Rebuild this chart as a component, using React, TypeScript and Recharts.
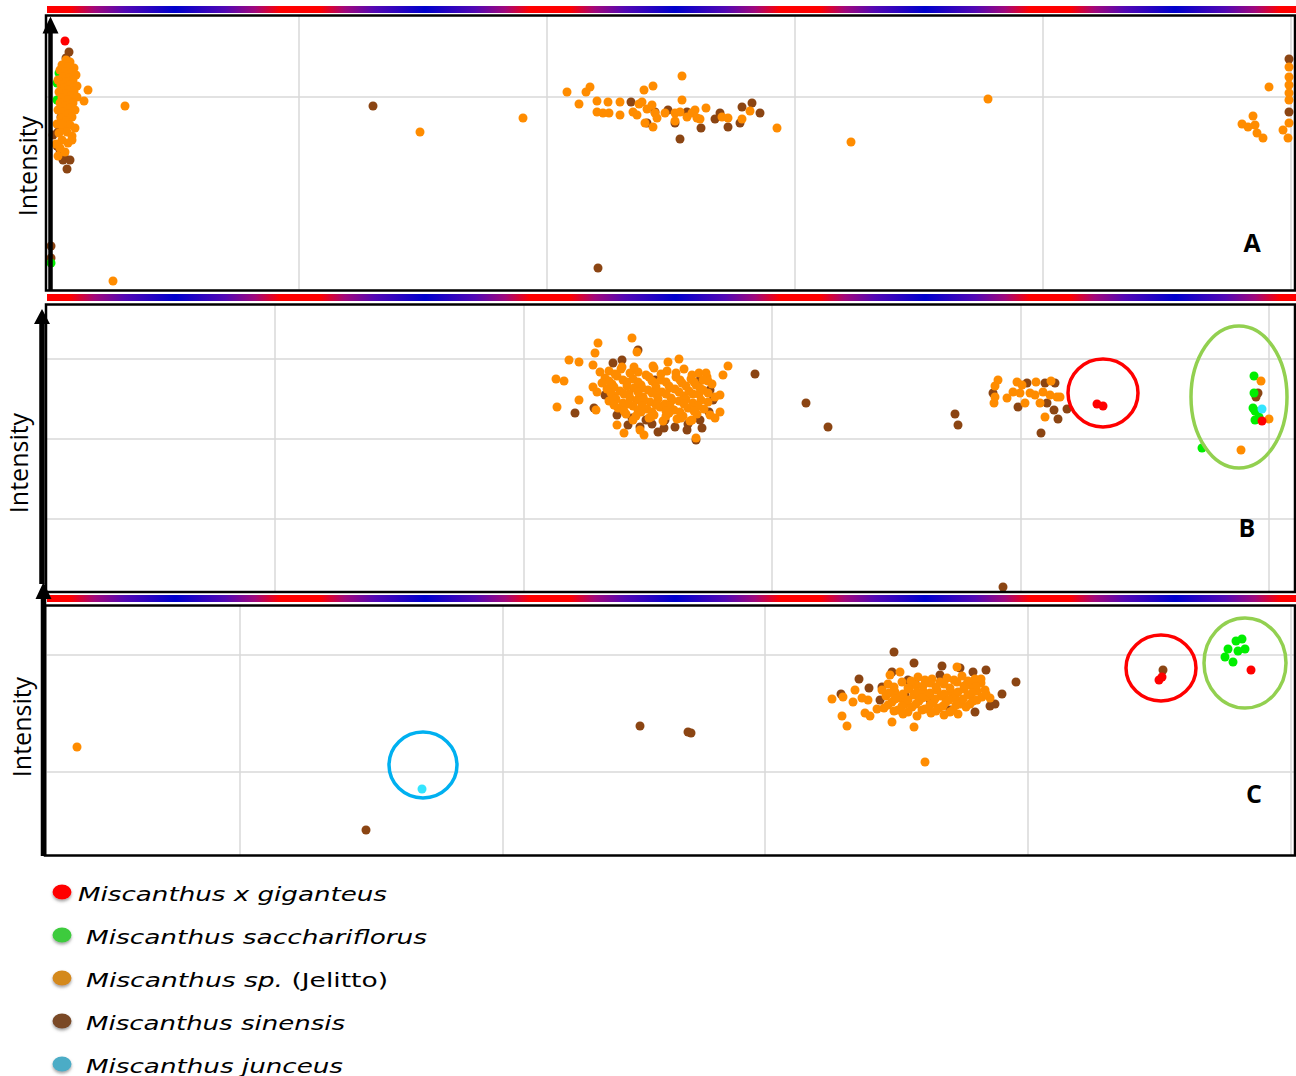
import React from 'react';
import { ScatterChart, Scatter, XAxis, YAxis, ZAxis, CartesianGrid, ReferenceDot } from 'recharts';

type Pt = [number, number];

// colours of the species in the plots
const ORANGE = '#FF8C00';
const BROWN = '#8B4513';
const GREEN = '#00EE00';
const RED = '#FF0000';
const CYAN = '#33E5FF';

// ---- panel A ----
const aOrange: Pt[] = [
  [20, 230], [24, 228], [16, 225], [22, 223], [28, 222], [14, 220], [19, 218], [25, 217], [30, 215], [17, 213],
  [23, 212], [12, 210], [27, 210], [20, 208], [15, 205], [24, 205], [31, 204], [18, 202], [22, 200], [28, 199],
  [13, 198], [20, 196], [25, 194], [16, 192], [31, 193], [22, 190], [14, 187], [27, 187], [19, 184], [24, 182],
  [12, 180], [17, 178], [29, 180], [22, 176], [15, 172], [26, 173], [20, 169], [11, 166], [24, 165], [17, 162],
  [29, 162], [13, 157], [21, 158], [26, 154], [16, 150], [10, 146], [22, 147], [14, 142], [19, 138], [12, 134],
  [26, 150], [15, 166], [42, 200], [38, 189], [79, 184], [67, 9],
  [477, 172], [521, 198], [533, 186], [540, 198], [544, 203], [551, 189], [551, 178], [557, 177], [562, 188], [563, 177],
  [574, 188], [574, 175], [587, 178], [591, 175], [593, 186], [596, 188], [598, 200], [601, 181], [599, 167], [606, 185],
  [607, 204], [607, 163], [609, 177], [611, 172], [619, 177], [629, 177], [629, 169], [636, 214], [636, 190], [634, 178],
  [641, 173], [646, 177], [649, 180], [651, 172], [654, 171], [660, 182], [676, 173], [682, 172], [696, 171], [704, 179],
  [731, 162], [374, 158], [805, 148], [942, 191],
  [1243, 223], [1243, 213], [1243, 205], [1243, 197], [1243, 190], [1243, 167], [1237, 160], [1242, 152], [1223, 203],
  [1207, 174], [1196, 166], [1202, 163], [1209, 165], [1211, 157], [1217, 152],
];
const aBrown: Pt[] = [
  [23, 238], [20, 232], [25, 220], [22, 206], [18, 190], [15, 173], [12, 158], [7, 155], [11, 144], [14, 140],
  [18, 135], [17, 130], [21, 121], [24, 130], [5, 44], [5, 32], [327, 184], [552, 22],
  [585, 188], [601, 167], [609, 178], [622, 180], [629, 167], [634, 151], [641, 178], [655, 162], [669, 171], [674, 177],
  [682, 163], [694, 167], [696, 183], [706, 187], [714, 177], [1243, 231], [1243, 178],
];
const aGreen: Pt[] = [[13, 217], [11, 207], [11, 190], [5, 27]];
const aRed: Pt[] = [[19, 249]];

// ---- panel B ----
const bOrange: Pt[] = [
  [563, 221], [575, 223], [592, 220], [608, 224], [621, 221], [638, 223], [653, 219],
  [559, 214], [571, 216], [587, 213], [603, 215], [615, 212], [630, 215], [645, 213], [661, 215],
  [566, 208], [581, 210], [595, 207], [609, 209], [623, 206], [636, 209], [650, 207], [666, 208],
  [561, 203], [574, 201], [588, 204], [602, 202], [616, 200], [629, 203], [643, 201], [657, 202],
  [568, 196], [583, 198], [597, 195], [611, 197], [625, 194], [638, 196], [653, 198], [669, 195],
  [563, 191], [577, 189], [591, 192], [604, 190], [619, 188], [633, 191], [647, 189], [662, 190],
  [572, 184], [587, 186], [601, 183], [614, 185], [628, 182], [642, 184], [658, 183],
  [580, 178], [595, 180], [608, 177], [623, 179], [637, 176], [651, 178],
  [587, 172], [603, 174], [617, 171], [631, 173], [644, 171],
  [569, 218], [584, 219], [600, 217], [615, 218], [630, 219], [646, 217], [660, 219],
  [563, 211], [577, 212], [592, 210], [606, 211], [620, 210], [634, 212], [648, 210], [662, 211],
  [568, 205], [581, 206], [596, 204], [610, 205], [624, 204], [640, 206], [654, 204],
  [565, 199], [578, 198], [592, 200], [606, 199], [620, 198], [633, 200], [647, 198], [662, 199],
  [570, 193], [584, 194], [598, 192], [612, 193], [626, 192], [640, 193], [655, 192],
  [568, 187], [582, 188], [596, 186], [610, 187], [624, 186], [638, 188], [652, 186],
  [578, 181], [592, 182], [606, 180], [620, 181], [634, 180], [648, 181],
  [590, 176], [605, 175], [620, 176], [635, 174],
  [586, 254], [552, 249], [549, 239], [591, 240], [523, 232], [533, 230], [547, 227], [510, 213], [518, 211], [547, 205],
  [551, 200], [533, 192], [511, 185], [550, 182], [571, 167], [578, 159], [576, 225], [588, 225], [607, 226], [622, 230],
  [633, 233], [682, 226], [677, 217], [657, 212], [674, 180], [669, 174], [650, 154], [646, 172], [598, 157], [594, 162],
  [556, 209], [554, 220], [674, 197], [664, 177],
  [952, 212], [949, 206], [949, 195], [948, 189], [961, 194], [971, 210], [990, 210], [1005, 211], [974, 199], [984, 199],
  [989, 197], [979, 189], [994, 189], [1004, 197], [1011, 195], [999, 175], [1014, 195], [976, 207], [967, 200], [997, 200],
  [1215, 211], [1223, 173], [1195, 142],
];
const bBrown: Pt[] = [
  [571, 177], [582, 167], [594, 165], [606, 168], [618, 164], [629, 165], [642, 168], [654, 172], [663, 180], [667, 192],
  [559, 197], [576, 232], [567, 229], [592, 242], [548, 184], [529, 179], [612, 160], [641, 162], [656, 164], [619, 172],
  [709, 218], [664, 202], [654, 212], [594, 192], [609, 212], [650, 152], [586, 174], [600, 172],
  [760, 189], [782, 165], [909, 178], [912, 167], [957, 5],
  [947, 199], [981, 209], [999, 209], [1009, 209], [972, 185], [1001, 189], [1008, 182], [1012, 173], [995, 159], [1021, 183],
  [1210, 195], [1212, 199],
];
const bGreen: Pt[] = [[1208, 216], [1208, 199], [1207, 184], [1209, 181], [1213, 175], [1209, 172], [1156, 144]];
const bRed: Pt[] = [[1051, 188], [1057, 186], [1216, 171]];
const bCyan: Pt[] = [[1216, 183]];

// ---- panel C ----
const cOrange: Pt[] = [
  [31, 109], [879, 94],
  [786, 157], [796, 140], [801, 130], [797, 159], [807, 154], [868, 129], [911, 189], [854, 184], [844, 181], [819, 143],
  [824, 140], [846, 134], [822, 156], [831, 147], [944, 158], [939, 166], [809, 166], [816, 158],
  [872, 179], [886, 177], [901, 178], [916, 180], [929, 177],
  [842, 172], [856, 174], [870, 171], [884, 173], [898, 172], [911, 174], [924, 171], [935, 173],
  [836, 166], [849, 164], [863, 167], [877, 165], [891, 166], [905, 164], [918, 167], [931, 165],
  [840, 160], [854, 158], [868, 161], [881, 159], [895, 160], [909, 158], [922, 161], [936, 159],
  [846, 154], [859, 152], [873, 155], [887, 153], [900, 154], [914, 152], [927, 155],
  [838, 148], [852, 146], [866, 149], [879, 147], [893, 148], [907, 146], [920, 149],
  [857, 142], [871, 140], [885, 143], [898, 141], [912, 142],
  [865, 175], [879, 176], [894, 174], [908, 176], [922, 175], [935, 177],
  [848, 169], [862, 168], [877, 170], [890, 169], [904, 168], [918, 170], [930, 169],
  [843, 163], [857, 162], [871, 164], [884, 163], [898, 162], [912, 164], [926, 163], [940, 162],
  [849, 157], [862, 156], [876, 158], [889, 157], [903, 156], [917, 157], [931, 156],
  [842, 151], [856, 150], [870, 152], [884, 151], [897, 150], [910, 151], [924, 152],
  [848, 145], [862, 144], [876, 146], [890, 145], [904, 144],
];
const cBrown: Pt[] = [
  [320, 26], [594, 130], [642, 124], [645, 123],
  [848, 204], [868, 193], [896, 190], [927, 184], [940, 186], [970, 174], [813, 177], [823, 168], [836, 169], [795, 162],
  [956, 162], [944, 150], [862, 176], [869, 173], [894, 181], [922, 174], [846, 184], [949, 152], [884, 156], [904, 146],
  [859, 161], [914, 188], [909, 161], [834, 156], [929, 144],
  [1117, 186],
];
const cGreen: Pt[] = [[1190, 215], [1196, 217], [1182, 207], [1192, 205], [1199, 207], [1179, 199], [1187, 194]];
const cRed: Pt[] = [[1116, 179], [1113, 176], [1205, 186]];
const cCyan: Pt[] = [[376, 67]];

// grid positions per panel
const aXTicks = [253, 501, 749, 997, 1245];
const aYTicks = [193];
const bXTicks = [229, 478, 726, 975, 1223];
const bYTicks = [73, 153, 233];
const cXTicks = [194, 457, 719, 982, 1245];
const cYTicks = [84, 201];

// legend
const legendNames = ['Miscanthus x giganteus', 'Miscanthus sacchariflorus', 'Miscanthus sp.', 'Miscanthus sinensis', 'Miscanthus junceus'];
const legendColors = ['#FF0000', '#3CCB3C', '#D4891F', '#7A4A28', '#4BACC6'];

type Ring = { x: number; y: number; rx: number; ry: number; color: string };
type Series = { points: Pt[]; color: string };

const toXY = (pts: Pt[]) => pts.map(([x, y]) => ({ x, y }));

const Panel = ({ top, height, xTicks, yTicks, series, rings }: {
  top: number; height: number; xTicks: number[]; yTicks: number[]; series: Series[]; rings: Ring[];
}) => (
  <div style={{ position: 'absolute', left: 0, top }}>
    <ScatterChart width={1296} height={height} margin={{ top: 0, right: 0, bottom: 0, left: 46 }}>
      <CartesianGrid stroke="#d9d9d9" strokeWidth={1.5} />
      <XAxis type="number" dataKey="x" domain={[0, 1250]} ticks={xTicks} hide />
      <YAxis type="number" dataKey="y" domain={[0, height]} ticks={yTicks} hide />
      <ZAxis range={[82, 82]} />
      {series.map((s, i) => (
        <Scatter key={i} data={toXY(s.points)} fill={s.color} isAnimationActive={false} />
      ))}
      {rings.map((r, i) => (
        <ReferenceDot
          key={'r' + i}
          x={r.x}
          y={r.y}
          shape={(p: any) => (
            <ellipse cx={p.cx} cy={p.cy} rx={r.rx} ry={r.ry} fill="none" stroke={r.color} strokeWidth={3.5} />
          )}
        />
      ))}
    </ScatterChart>
  </div>
);

const Arrow = ({ x, w, y1, y2, headW, headH }: { x: number; w: number; y1: number; y2: number; headW: number; headH: number }) => (
  <g>
    <rect x={x - w / 2} y={y2 + headH - 1} width={w} height={y1 - y2 - headH + 1} fill="#000" />
    <polygon points={`${x - headW / 2},${y2 + headH} ${x},${y2} ${x + headW / 2},${y2 + headH}`} fill="#000" />
  </g>
);

const textFont = '"Open Sans", sans-serif';

export default function App() {
  return (
    <div style={{ position: 'absolute', left: 0, top: 0, width: 1296, height: 1076, background: '#fff', overflow: 'hidden' }}>
      <Panel
        top={15}
        height={275}
        xTicks={aXTicks}
        yTicks={aYTicks}
        series={[
          { points: aBrown, color: BROWN },
          { points: aGreen, color: GREEN },
          { points: aOrange, color: ORANGE },
          { points: aRed, color: RED },
        ]}
        rings={[]}
      />
      <Panel
        top={304}
        height={288}
        xTicks={bXTicks}
        yTicks={bYTicks}
        series={[
          { points: bBrown, color: BROWN },
          { points: bGreen, color: GREEN },
          { points: bOrange, color: ORANGE },
          { points: bRed, color: RED },
          { points: bCyan, color: CYAN },
        ]}
        rings={[
          { x: 1057, y: 199, rx: 35, ry: 34, color: '#FF0000' },
          { x: 1193, y: 195, rx: 48, ry: 71, color: '#92D050' },
        ]}
      />
      <Panel
        top={605}
        height={251}
        xTicks={cXTicks}
        yTicks={cYTicks}
        series={[
          { points: cBrown, color: BROWN },
          { points: cGreen, color: GREEN },
          { points: cOrange, color: ORANGE },
          { points: cRed, color: RED },
          { points: cCyan, color: CYAN },
        ]}
        rings={[
          { x: 1115, y: 188, rx: 35, ry: 33, color: '#FF0000' },
          { x: 1199, y: 193, rx: 41, ry: 45, color: '#92D050' },
          { x: 377, y: 91, rx: 34, ry: 33, color: '#00B0F0' },
        ]}
      />

      <svg width={1296} height={1076} style={{ position: 'absolute', left: 0, top: 0, pointerEvents: 'none' }}>
        <defs>
          <linearGradient id="spectrum" gradientUnits="userSpaceOnUse" x1={-75} y1={0} x2={175} y2={0} spreadMethod="repeat">
            <stop offset="0" stopColor="#0000CC" />
            <stop offset="0.2" stopColor="#5208B4" />
            <stop offset="0.32" stopColor="#A0087C" />
            <stop offset="0.42" stopColor="#FF0000" />
            <stop offset="0.58" stopColor="#FF0000" />
            <stop offset="0.68" stopColor="#A0087C" />
            <stop offset="0.8" stopColor="#5208B4" />
            <stop offset="1" stopColor="#0000CC" />
          </linearGradient>
          <filter id="shadow" x="-50%" y="-50%" width="200%" height="200%">
            <feDropShadow dx="0" dy="2" stdDeviation="1.5" floodColor="#666" floodOpacity="0.6" />
          </filter>
        </defs>

        {/* colour bars */}
        <rect x={47} y={6} width={1249} height={7} fill="url(#spectrum)" />
        <rect x={47} y={294} width={1249} height={7} fill="url(#spectrum)" />
        <rect x={47} y={595} width={1249} height={7} fill="url(#spectrum)" />

        {/* frames */}
        <rect x={46} y={15.5} width={1249} height={275} fill="none" stroke="#000" strokeWidth={2.5} />
        <rect x={46} y={304.5} width={1249} height={287.5} fill="none" stroke="#000" strokeWidth={2.5} />
        <rect x={45} y={605.5} width={1250} height={250} fill="none" stroke="#000" strokeWidth={2.5} />

        {/* intensity arrows */}
        <Arrow x={50.5} w={4.5} y1={290} y2={16.5} headW={16} headH={17} />
        <Arrow x={42} w={5.5} y1={584} y2={309} headW={16} headH={15} />
        <Arrow x={43.5} w={5.5} y1={856} y2={582} headW={16} headH={17} />

        <text transform="translate(36.5,166) rotate(-90)" textAnchor="middle" fontFamily={textFont} fontSize={25} fill="#000">Intensity</text>
        <text transform="translate(27.5,463) rotate(-90)" textAnchor="middle" fontFamily={textFont} fontSize={25} fill="#000">Intensity</text>
        <text transform="translate(31,727) rotate(-90)" textAnchor="middle" fontFamily={textFont} fontSize={25} fill="#000">Intensity</text>

        <text x={1252} y={251.5} textAnchor="middle" fontFamily={textFont} fontWeight={700} fontSize={25} fill="#000">A</text>
        <text x={1247} y={537} textAnchor="middle" fontFamily={textFont} fontWeight={700} fontSize={25} fill="#000">B</text>
        <text x={1254} y={803} textAnchor="middle" fontFamily={textFont} fontWeight={700} fontSize={25} fill="#000">C</text>

        {/* legend */}
        {legendNames.map((name, i) => {
          const cy = [892, 935, 978, 1021, 1064][i];
          const tx = i === 0 ? 78 : 86;
          const len = [309, 341, 302, 259, 257][i];
          return (
            <g key={name}>
              <ellipse cx={62} cy={cy} rx={9.5} ry={7.5} fill={legendColors[i]} filter="url(#shadow)" />
              <text
                x={tx}
                y={cy + 8.5}
                fontFamily='"DejaVu Sans", sans-serif'
                fontSize={20}
                fill="#000"
                textLength={len}
                lengthAdjust="spacingAndGlyphs"
              >
                <tspan fontStyle="italic">{name}</tspan>
                {i === 2 ? <tspan fontStyle="normal"> (Jelitto)</tspan> : null}
              </text>
            </g>
          );
        })}
      </svg>
    </div>
  );
}
